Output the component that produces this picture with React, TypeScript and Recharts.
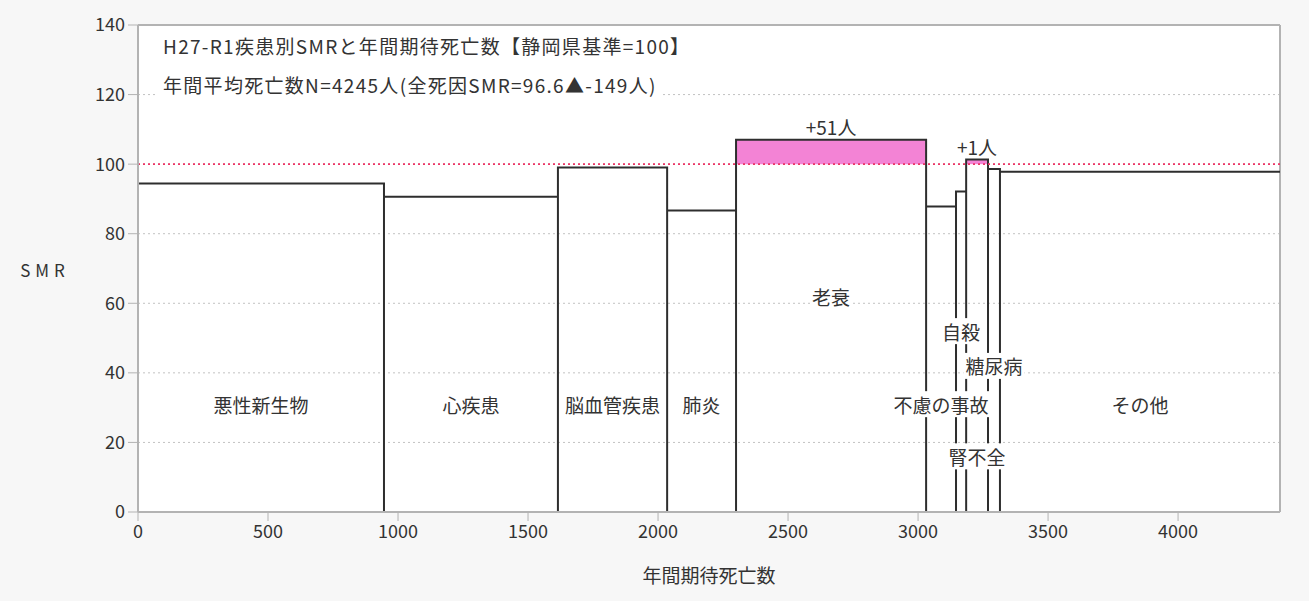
import React from "react";
import {
  CartesianGrid,
  ComposedChart,
  Line,
  ReferenceArea,
  ReferenceLine,
  Scatter,
  XAxis,
  YAxis,
} from "recharts";

// 疾患別 SMR（静岡県基準=100）と年間期待死亡数 — 幅が期待死亡数、高さがSMR
const categories = ["悪性新生物", "心疾患", "脳血管疾患", "肺炎", "老衰", "不慮の事故", "自殺", "腎不全", "糖尿病", "その他"];
const expected = [946, 669, 420, 265, 731, 115, 39, 84, 46, 1077];
const smr = [94.4, 90.6, 99.0, 86.7, 107.0, 87.8, 92.1, 101.3, 98.6, 97.8];
// ラベルを置く高さ（SMR目盛り上の位置）
const labelY = [31, 31, 31, 31, 62, 31, 52, 16, 42, 31];

const xTicks = [0, 500, 1000, 1500, 2000, 2500, 3000, 3500, 4000];
const yTicks = [0, 20, 40, 60, 80, 100, 120, 140];
const titleLines = [
  "H27-R1疾患別SMRと年間期待死亡数【静岡県基準=100】",
  "年間平均死亡数N=4245人(全死因SMR=96.6▲-149人)",
];
const xLabel = "年間期待死亡数";
const yLabel = "SMR";

const FONT = '"Noto Sans CJK JP", "Noto Sans", sans-serif';
const TEXT = "#333";
const FRAME = "#b3b3b3";

// cumulative boundaries
const starts: number[] = [];
let acc = 0;
expected.forEach((e) => {
  starts.push(acc);
  acc += e;
});
const total = acc;
const ends = starts.map((s, i) => s + expected[i]);

// step outline: top of each block plus the dividing verticals down to 0
const outline: { x: number; y: number }[] = [];
categories.forEach((_, i) => {
  if (i === 0) outline.push({ x: starts[i], y: smr[i] });
  else {
    outline.push({ x: starts[i], y: 0 });
    outline.push({ x: starts[i], y: smr[i] });
  }
  outline.push({ x: ends[i], y: smr[i] });
  if (i < categories.length - 1) outline.push({ x: ends[i], y: 0 });
});

const labels = categories.map((name, i) => ({
  x: (starts[i] + ends[i]) / 2,
  y: labelY[i],
  name,
  excess: false,
}));
const excessLabels = categories
  .map((_, i) => ({
    x: (starts[i] + ends[i]) / 2,
    y: smr[i],
    name: `+${Math.round((expected[i] * (smr[i] - 100)) / 100)}人`,
    excess: true,
    over: smr[i] > 100,
  }))
  .filter((d) => d.over);

function TextMark(props: any) {
  const { cx, cy, payload } = props;
  if (cx == null || cy == null) return null;
  const fs = 19;
  if (payload.excess) {
    return (
      <text x={cx} y={cy - 13} textAnchor="middle" dominantBaseline="central" fontSize={fs} fill={TEXT} fontFamily={FONT}>
        {payload.name}
      </text>
    );
  }
  const w = payload.name.length * fs + 4;
  return (
    <g>
      <rect x={cx - w / 2} y={cy - 13} width={w} height={26} fill="#fff" />
      <text x={cx} y={cy} textAnchor="middle" dominantBaseline="central" fontSize={fs} fill={TEXT} fontFamily={FONT}>
        {payload.name}
      </text>
    </g>
  );
}

export default function App() {
  return (
    <div
      style={{
        position: "absolute",
        left: 0,
        top: 0,
        width: 1309,
        height: 601,
        background: "#f7f7f7",
        fontFamily: FONT,
        color: TEXT,
      }}
    >
      <ComposedChart width={1309} height={601} margin={{ top: 25, right: 29, bottom: 49, left: 78 }}>
        <CartesianGrid vertical={false} stroke="#c2c2c2" strokeDasharray="2 3" fill="#fff" />
        <XAxis
          type="number"
          dataKey="x"
          domain={[0, total]}
          ticks={xTicks}
          allowDataOverflow
          height={40}
          tickSize={9}
          tickMargin={4}
          axisLine={{ stroke: FRAME, strokeWidth: 2 }}
          tickLine={{ stroke: FRAME }}
          tick={{ fill: TEXT, fontSize: 18, fontFamily: FONT }}
        />
        <YAxis
          type="number"
          dataKey="y"
          domain={[0, 140]}
          ticks={yTicks}
          width={60}
          tickSize={10}
          tickMargin={3}
          axisLine={{ stroke: FRAME, strokeWidth: 2 }}
          tickLine={{ stroke: FRAME }}
          tick={{ fill: TEXT, fontSize: 18, fontFamily: FONT }}
        />
        <ReferenceLine y={140} stroke={FRAME} strokeWidth={2} />
        <ReferenceLine x={total} stroke={FRAME} strokeWidth={2} />
        {categories.map((c, i) =>
          smr[i] > 100 ? (
            <ReferenceArea key={c} x1={starts[i]} x2={ends[i]} y1={100} y2={smr[i]} fill="#f383d5" fillOpacity={1} stroke="none" />
          ) : null
        )}
        <Line
          data={outline}
          dataKey="y"
          type="linear"
          stroke="#2e2e2e"
          strokeWidth={2}
          dot={false}
          activeDot={false}
          isAnimationActive={false}
        />
        <ReferenceLine y={100} stroke="#ec3565" strokeWidth={1.6} strokeDasharray="2 3" />
        <Scatter data={labels} shape={<TextMark />} isAnimationActive={false} />
        <Scatter data={excessLabels} shape={<TextMark />} isAnimationActive={false} />
      </ComposedChart>

      <div
        style={{
          position: "absolute",
          left: 155,
          top: 26,
          fontSize: 19,
          letterSpacing: 1.3,
          lineHeight: "39px",
          whiteSpace: "nowrap",
        }}
      >
        {titleLines.map((t) => (
          <div key={t} style={{ width: "fit-content", padding: "0 6px 0 8px", background: "#fff" }}>
            {t}
          </div>
        ))}
      </div>
      <div
        style={{
          position: "absolute",
          left: 0,
          width: 90,
          top: 257,
          textAlign: "center",
          fontSize: 17,
          letterSpacing: 5,
        }}
      >
        {yLabel}
      </div>
      <div
        style={{
          position: "absolute",
          left: 559,
          width: 300,
          top: 561,
          textAlign: "center",
          fontSize: 19,
        }}
      >
        {xLabel}
      </div>
    </div>
  );
}
